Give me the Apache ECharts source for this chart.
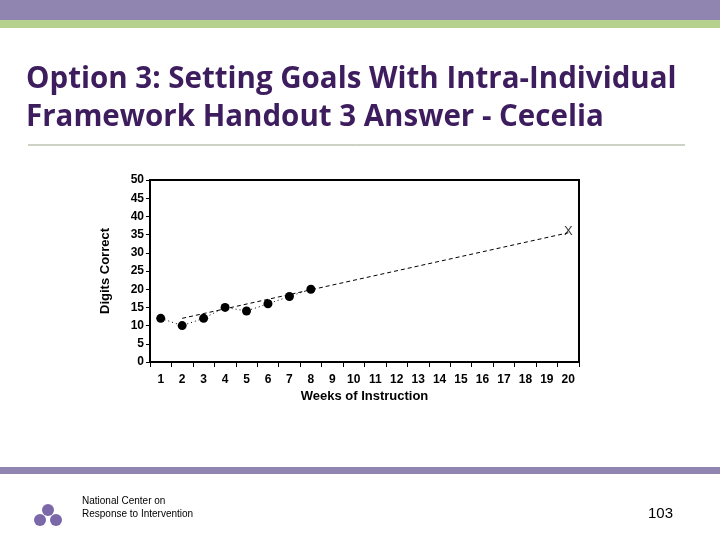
<!DOCTYPE html>
<html>
<head>
<meta charset="utf-8">
<script src="https://cdn.jsdelivr.net/npm/echarts@6/dist/echarts.min.js"></script>
<style>
  html, body { margin: 0; padding: 0; background: #fff; }
  #chart { width: 720px; height: 540px; }
</style>
</head>
<body>
<div id="chart"></div>
<script>
var weeks = ['1','2','3','4','5','6','7','8','9','10','11','12','13','14','15','16','17','18','19','20'];
var scores = [12, 10, 12, 15, 14, 16, 18, 20];
var trend = [null, 12, null, null, null, null, null, null, null, null, null, null, null, null, null, null, null, null, null, 35.5];
var goal = [[19, 36]];

var chart = echarts.init(document.getElementById('chart'));
var fontBold = { fontFamily: 'Liberation Sans, Arial', fontWeight: 'bold', color: '#000' };

chart.setOption({
    animation: false,
    backgroundColor: '#fff',
    graphic: [
        { type: 'rect', shape: { x: 0, y: 0, width: 720, height: 20 }, style: { fill: '#9085b0' } },
        { type: 'rect', shape: { x: 0, y: 20, width: 720, height: 8 }, style: { fill: '#b6d08e' } },
        { type: 'text', left: 26, top: 61, style: { text: 'Option 3: Setting Goals With Intra-Individual\nFramework Handout 3 Answer - Cecelia',
            font: 'bold 29.5px "Open Sans", "DejaVu Sans", sans-serif', fill: '#3d1d5e', lineHeight: 38 } },
        { type: 'line', shape: { x1: 28, y1: 145, x2: 685, y2: 145 }, style: { stroke: '#9aa88a', lineWidth: 1 } },
        { type: 'rect', shape: { x: 0, y: 467, width: 720, height: 7 }, style: { fill: '#9085b0' } },
        { type: 'text', left: 82, top: 495, style: { text: 'National Center on\nResponse to Intervention',
            font: '10px "Liberation Sans", Arial, sans-serif', fill: '#000', lineHeight: 13 } },
        { type: 'text', left: 648, top: 506, style: { text: '103', font: '15px "Liberation Sans", Arial, sans-serif', fill: '#000' } },
        { type: 'circle', shape: { cx: 48, cy: 510, r: 6 }, style: { fill: '#7b68a8' } },
        { type: 'circle', shape: { cx: 40, cy: 520, r: 6 }, style: { fill: '#7b68a8' } },
        { type: 'circle', shape: { cx: 56, cy: 520, r: 6 }, style: { fill: '#7b68a8' } }
    ],
    grid: { left: 150, right: 141, top: 180, bottom: 178, show: true, borderColor: '#000', borderWidth: 2 },
    xAxis: {
        type: 'category', data: weeks, boundaryGap: true,
        name: 'Weeks of Instruction', nameLocation: 'middle', nameGap: 28,
        nameTextStyle: Object.assign({ fontSize: 13 }, fontBold),
        axisLine: { lineStyle: { color: '#000', width: 2 } },
        axisTick: { show: true, length: 5, lineStyle: { color: '#000' } },
        axisLabel: Object.assign({ fontSize: 12, margin: 12 }, fontBold),
        splitLine: { show: false }
    },
    yAxis: {
        type: 'value', min: 0, max: 50, interval: 5,
        name: 'Digits Correct', nameLocation: 'middle', nameGap: 38,
        nameTextStyle: Object.assign({ fontSize: 13 }, fontBold),
        axisLine: { show: true, lineStyle: { color: '#000', width: 2 } },
        axisTick: { show: true, length: 4, lineStyle: { color: '#000' } },
        axisLabel: Object.assign({ fontSize: 12, margin: 6 }, fontBold),
        splitLine: { show: false }
    },
    series: [
        {
            type: 'line', data: trend, connectNulls: true, symbol: 'none',
            lineStyle: { color: '#000', width: 1, type: [4, 3] }
        },
        {
            type: 'line', data: scores, symbol: 'circle', symbolSize: 9,
            itemStyle: { color: '#000' },
            lineStyle: { color: '#000', width: 1, type: [1, 3] }
        },
        {
            type: 'scatter', data: goal, symbol: 'circle', symbolSize: 1,
            itemStyle: { color: 'rgba(0,0,0,0)' },
            label: { show: true, formatter: 'X', position: 'inside', fontSize: 13, color: '#000', fontFamily: 'Liberation Sans, Arial' }
        }
    ]
});
</script>
</body>
</html>
